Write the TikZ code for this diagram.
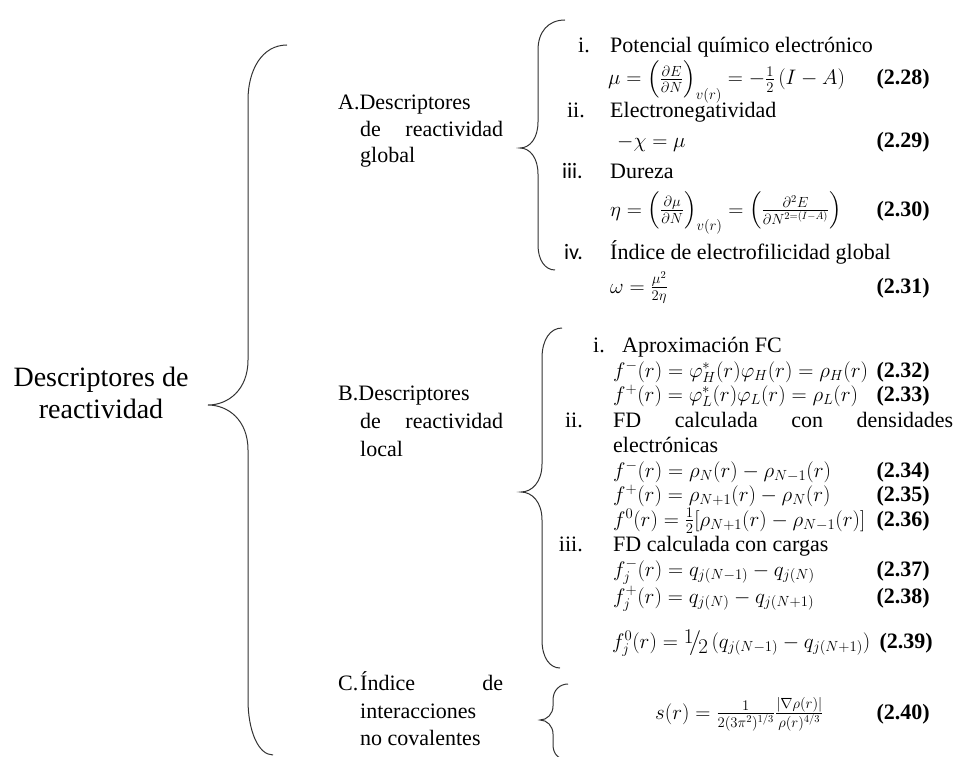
\documentclass[tikz,border=0pt]{standalone}
\usepackage{fix-cm}
\usepackage{amsmath}
\usepackage{fontspec}
\setmainfont{Liberation Serif}
\newfontfamily\calibrifont{Carlito}
\usetikzlibrary{positioning}
\tikzset{txt/.style={anchor=base west,inner sep=0pt,font=\fontsize{22}{26}\selectfont},
  eqn/.style={anchor=base west,inner sep=0pt,font=\fontsize{21}{25}\selectfont},
  rom/.style={anchor=base east,inner sep=0pt,font=\fontsize{22}{26}\selectfont},
  tag/.style={anchor=base east,inner sep=0pt,font=\fontsize{22}{26}\selectfont\bfseries},
  brace/.style={draw=black!80,line width=1pt}}

\begin{document}
\begin{tikzpicture}[x=1pt,y=-1pt]
\clip (0,0) rectangle (958,757);
\fill[white] (0,0) rectangle (958,757);
% root
\node[inner sep=0pt,align=center,font=\fontsize{28}{32}\selectfont] (root) at (101,393) {Descriptores de\\reactividad};
\draw[brace] (287,45) .. controls (262,45) and (248,70) .. (248,100) -- (248,360) .. controls (248,390) and (228,405) .. (208,405) .. controls (228,405) and (248,420) .. (248,450) -- (248,700) .. controls (248,730) and (258,755) .. (273,755);
% A: global
\node[txt] (labA) at (338,110) {A.Descriptores};
\node[txt] (labA2) at (360,136) {\makebox[143pt][s]{de reactividad}};
\node[txt] (labA3) at (360,162) {global};
\draw[brace] (565,20) .. controls (548,20) and (538,32) .. (538,50) -- (538,122) .. controls (538,138) and (530,148) .. (520,148) .. controls (530,148) and (538,158) .. (538,174) -- (538,245) .. controls (538,260) and (545,270) .. (555,270);
\node[rom] (ai) at (590,53) {i.}; \node[txt] (mu) at (610,53) {Potencial químico electrónico};
\node[eqn] (eqmu) at (608,85) {$\mu = \Bigl(\frac{\partial E}{\partial N}\Bigr)_{v(r)} = -\frac{1}{2}\,(I - A)$}; \node[tag] (n28) at (930,85) {(2.28)};
\node[rom] (aii) at (585,118) {ii.}; \node[txt] (chi) at (610,118) {Electronegatividad};
\node[eqn] (eqchi) at (617,147) {$-\chi = \mu$}; \node[tag] (n29) at (930,147) {(2.29)};
\node[rom,font=\fontsize{22}{26}\calibrifont] (aiii) at (583,178) {iii.}; \node[txt] (eta) at (610,178) {Dureza};
\node[eqn] (eqeta) at (610,216) {$\eta = \left(\frac{\partial \mu}{\partial N}\right)_{v(r)} = \left(\frac{\partial^2 E}{\partial N^{2=(I-A)}}\right)$}; \node[tag] (n30) at (930,216) {(2.30)};
\node[rom,font=\fontsize{22}{26}\calibrifont] (aiv) at (583,259) {iv.}; \node[txt] (omega) at (610,259) {Índice de electrofilicidad global};
\node[eqn] (eqomega) at (610,293) {$\omega = \frac{\mu^2}{2\eta}$}; \node[tag] (n31) at (930,293) {(2.31)};
% B: local
\node[txt] (labB) at (338,400) {B.Descriptores};
\node[txt] (labB2) at (360,428) {\makebox[143pt][s]{de reactividad}};
\node[txt] (labB3) at (360,456) {local};
\draw[brace] (562,328) .. controls (550,328) and (542,340) .. (542,358) -- (542,464) .. controls (542,482) and (532,492) .. (521,492) .. controls (532,492) and (542,502) .. (542,520) -- (542,640) .. controls (542,658) and (550,668) .. (560,668);
\node[rom] (bi) at (605,352) {i.}; \node[txt] (fc) at (622,352) {Aproximación FC};
\node[eqn] (eq32) at (613,377) {$f^-(r) = \varphi_H^*(r)\varphi_H(r) = \rho_H(r)$}; \node[tag] (n32) at (930,377) {(2.32)};
\node[eqn] (eq33) at (613,401) {$f^+(r) = \varphi_L^*(r)\varphi_L(r) = \rho_L(r)$}; \node[tag] (n33) at (930,401) {(2.33)};
\node[rom] (bii) at (583,427) {ii.}; \node[txt] (fd) at (613,427) {\makebox[340pt][s]{FD calculada con densidades}};
\node[txt] (fd2) at (613,452) {electrónicas};
\node[eqn] (eq34) at (613,477) {$f^-(r) = \rho_N(r) - \rho_{N-1}(r)$}; \node[tag] (n34) at (930,477) {(2.34)};
\node[eqn] (eq35) at (613,501) {$f^+(r) = \rho_{N+1}(r) - \rho_N(r)$}; \node[tag] (n35) at (930,501) {(2.35)};
\node[eqn] (eq36) at (613,526) {$f^0(r) = \frac{1}{2}[\rho_{N+1}(r) - \rho_{N-1}(r)]$}; \node[tag] (n36) at (930,526) {(2.36)};
\node[rom] (biii) at (583,551) {iii.}; \node[txt] (fdq) at (613,551) {FD calculada con cargas};
\node[eqn] (eq37) at (613,576) {$f_j^-(r) = q_{j(N-1)} - q_{j(N)}$}; \node[tag] (n37) at (930,576) {(2.37)};
\node[eqn] (eq38) at (613,603) {$f_j^+(r) = q_{j(N)} - q_{j(N+1)}$}; \node[tag] (n38) at (930,603) {(2.38)};
\node[eqn] (eq39) at (612,648) {$f_j^0(r) = \raisebox{0.45ex}{$1$}\!\big/\!\raisebox{-0.55ex}{$2$}\,(q_{j(N-1)} - q_{j(N+1)})$}; \node[tag] (n39) at (933,648) {(2.39)};
% C: NCI
\node[txt] (labC) at (338,690) {C.};
\node[txt] (labC1) at (360,690) {\makebox[143pt][s]{Índice de}};
\node[txt] (labC2) at (360,718) {interacciones};
\node[txt] (labC3) at (360,745) {no covalentes};
\draw[brace] (568,684) .. controls (560,684) and (553,690) .. (553,700) -- (553,706) .. controls (553,714) and (547,720) .. (540,720) .. controls (547,720) and (553,726) .. (553,734) -- (553,745) .. controls (553,755) and (560,760) .. (568,760);
\node[eqn] (eq40) at (655,719) {$s(r) = \frac{1}{2(3\pi^2)^{1/3}}\frac{|\nabla\rho(r)|}{\rho(r)^{4/3}}$}; \node[tag] (n40) at (930,719) {(2.40)};
\end{tikzpicture}
\end{document}
